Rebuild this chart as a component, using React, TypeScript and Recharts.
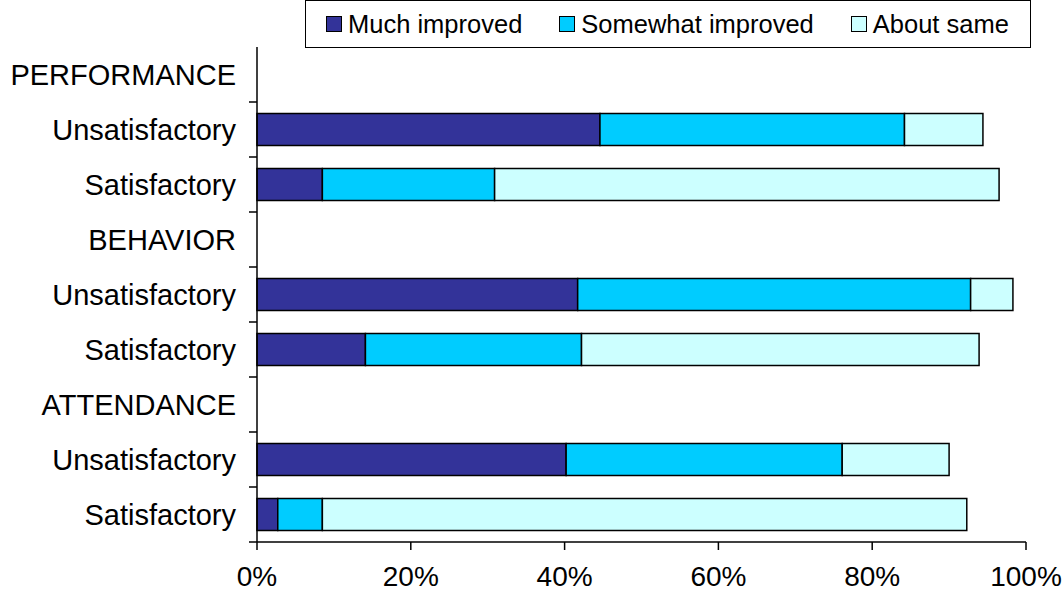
import { Bar, BarChart, Legend, XAxis, YAxis } from "recharts";

const categories = [
  "PERFORMANCE",
  "Unsatisfactory",
  "Satisfactory",
  "BEHAVIOR",
  "Unsatisfactory",
  "Satisfactory",
  "ATTENDANCE",
  "Unsatisfactory",
  "Satisfactory",
];
const muchImproved = [null, 44.6, 8.5, null, 41.7, 14.1, null, 40.2, 2.7];
const somewhatImproved = [null, 39.6, 22.4, null, 51.1, 28.1, null, 35.9, 5.8];
const aboutSame = [null, 10.2, 65.6, null, 5.5, 51.7, null, 13.9, 83.8];
const xTicks = [0, 20, 40, 60, 80, 100];

const seriesNames = ["Much improved", "Somewhat improved", "About same"];
const seriesColors = ["#333399", "#00ccff", "#ccffff"];

const WIDTH = 1063;
const HEIGHT = 592;
const X_AXIS_HEIGHT = 30;
const MARGIN = { top: 47, right: 37, bottom: 20, left: 0 };
const BAND =
  (HEIGHT - MARGIN.top - MARGIN.bottom - X_AXIS_HEIGHT) / categories.length;
const FONT = "'Liberation Sans', Arial, sans-serif";

const data = categories.map((label, i) => ({
  id: i,
  label,
  much: muchImproved[i],
  somewhat: somewhatImproved[i],
  about: aboutSame[i],
}));

function CategoryTick(props: any) {
  const { x, y, payload } = props;
  const axisX = x + 21;
  return (
    <g>
      <line
        x1={axisX - 8}
        x2={axisX}
        y1={y + BAND / 2}
        y2={y + BAND / 2}
        stroke="#000"
        strokeWidth={1.5}
      />
      <text
        x={x}
        y={y}
        dy="0.36em"
        textAnchor="end"
        fill="#000"
        fontSize={29}
        fontFamily={FONT}
      >
        {categories[payload.value]}
      </text>
    </g>
  );
}

function LegendBox() {
  return (
    <div
      style={{
        boxSizing: "border-box",
        width: 726,
        height: 48,
        border: "1.5px solid #000",
        background: "#fff",
        display: "flex",
        alignItems: "center",
        paddingLeft: 20,
        fontFamily: FONT,
        fontSize: 25.5,
        color: "#000",
        whiteSpace: "nowrap",
      }}
    >
      {seriesNames.map((name, i) => (
        <div
          key={name}
          style={{
            display: "flex",
            alignItems: "center",
            flexShrink: 0,
            marginRight: i < seriesNames.length - 1 ? 37 : 0,
          }}
        >
          <span
            style={{
              boxSizing: "border-box",
              width: 16,
              height: 16,
              border: "1.5px solid #000",
              background: seriesColors[i],
              marginRight: 6,
            }}
          />
          {name}
        </div>
      ))}
    </div>
  );
}

export default function App() {
  return (
    <div style={{ position: "absolute", left: 0, top: 0, background: "#fff" }}>
      <BarChart
        width={WIDTH}
        height={HEIGHT}
        data={data}
        layout="vertical"
        margin={MARGIN}
        barCategoryGap="21%"
      >
        <XAxis
          type="number"
          domain={[0, 100]}
          ticks={xTicks}
          height={X_AXIS_HEIGHT}
          tickFormatter={(v) => `${v}%`}
          tick={{ fill: "#000", fontSize: 28, fontFamily: FONT }}
          tickSize={8}
          tickMargin={16}
          axisLine={{ stroke: "#000", strokeWidth: 1.5 }}
          tickLine={{ stroke: "#000", strokeWidth: 1.5 }}
          interval={0}
        />
        <YAxis
          type="category"
          dataKey="id"
          width={257}
          tick={<CategoryTick />}
          tickLine={false}
          tickSize={8}
          tickMargin={13}
          axisLine={{ stroke: "#000", strokeWidth: 1.5 }}
          interval={0}
        />
        <Legend
          layout="vertical"
          align="center"
          verticalAlign="middle"
          wrapperStyle={{ top: 0, left: 305, width: 726 }}
          content={() => <LegendBox />}
        />
        <Bar
          dataKey="much"
          name={seriesNames[0]}
          stackId="a"
          fill={seriesColors[0]}
          stroke="#000"
          strokeWidth={1.5}
          isAnimationActive={false}
        />
        <Bar
          dataKey="somewhat"
          name={seriesNames[1]}
          stackId="a"
          fill={seriesColors[1]}
          stroke="#000"
          strokeWidth={1.5}
          isAnimationActive={false}
        />
        <Bar
          dataKey="about"
          name={seriesNames[2]}
          stackId="a"
          fill={seriesColors[2]}
          stroke="#000"
          strokeWidth={1.5}
          isAnimationActive={false}
        />
      </BarChart>
    </div>
  );
}
